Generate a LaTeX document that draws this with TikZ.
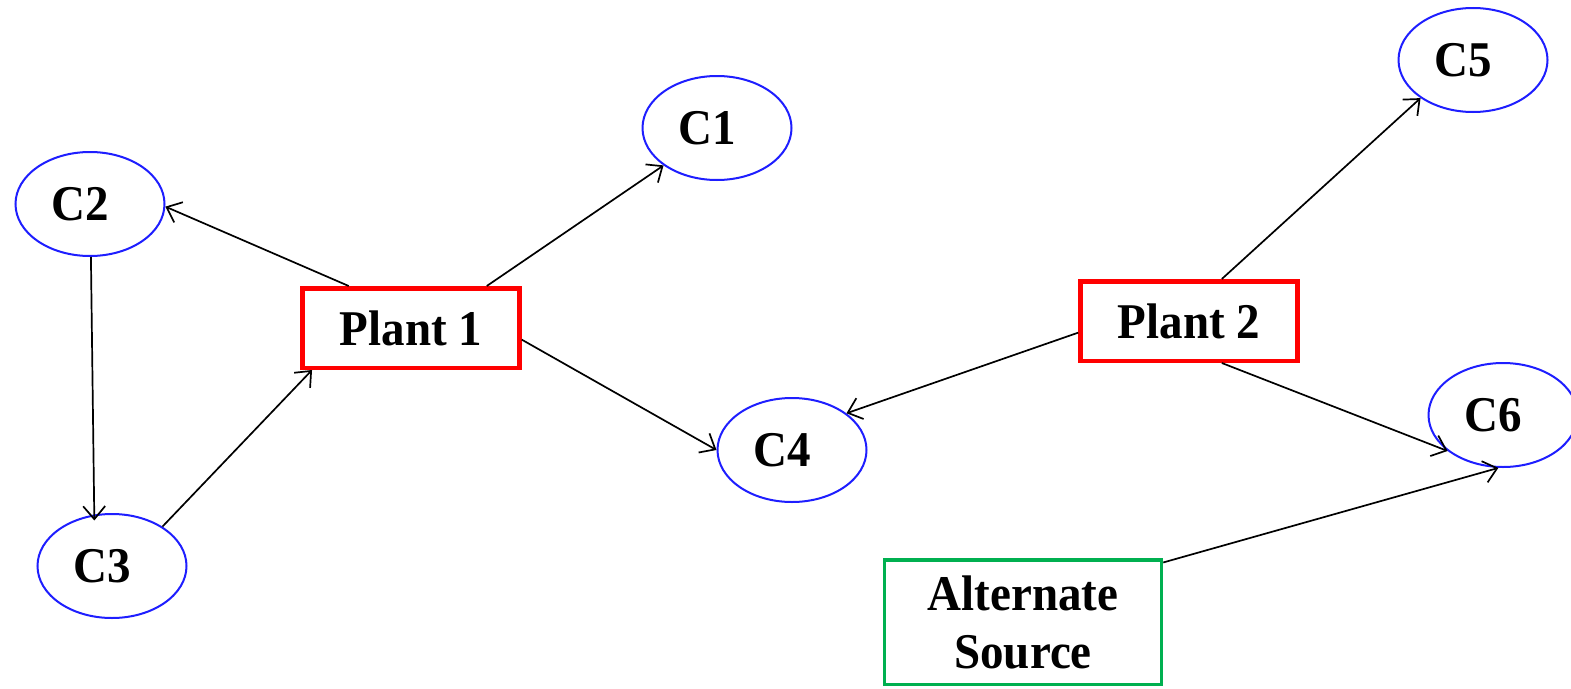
\documentclass[tikz,border=0pt]{standalone}
\usepackage{fontspec}
\setmainfont{Liberation Serif}[FakeStretch=0.94]
\usetikzlibrary{arrows.meta,shapes.geometric}
\definecolor{custblue}{RGB}{30,30,255}
\definecolor{plantred}{RGB}{255,0,0}
\definecolor{srcgreen}{RGB}{0,176,80}
\tikzset{
  cust/.style={ellipse, draw=custblue, line width=2pt, minimum width=149pt,
    minimum height=104pt, inner sep=0pt, font=\fontsize{50}{58}\selectfont\bfseries,
    execute at begin node=\kern-19pt},
  plant/.style={rectangle, draw=plantred, line width=4.5pt, minimum width=217pt,
    minimum height=79.5pt, inner sep=0pt, font=\fontsize{50}{58}\selectfont\bfseries},
  source/.style={rectangle, draw=srcgreen, line width=3.5pt, minimum width=277pt,
    minimum height=124.5pt, inner sep=0pt, align=center,
    font=\fontsize{50}{58}\selectfont\bfseries},
  flow/.style={line width=1.7pt, -{Straight Barb[length=13pt,width=22pt,line width=1.7pt]}}
}
\begin{document}
\begin{tikzpicture}[x=1pt,y=-1pt]
\useasboundingbox (0,0) rectangle (1571,688);
% customers
\node[cust] (c1) at (717,128) {C1};
\node[cust] (c2) at (90,204) {C2};
\node[cust] (c3) at (112,566) {C3};
\node[cust] (c4) at (792,450) {C4};
\node[cust] (c5) at (1473,60) {C5};
\node[cust] (c6) at (1503,415) {C6};
% supply points
\node[plant] (p1) at (411,328) {Plant 1};
\node[plant] (p2) at (1189,321) {Plant 2};
\node[source] (alt) at (1023,622) {Alternate\\Source};
% shipments
\draw[flow] (p1.146) -- (c2.-2);
\draw[flow] (p1.29) -- (c1.215);
\draw[flow] (p1.-6) -- (c4.180);
\draw[flow, shorten >=-6pt] (c2.-89) -- (c3.109);
\draw[flow] (c3.38) -- (p1.203);
\draw[flow] (p2.52) -- (c5.216);
\draw[flow] (p2.186) -- (c4.34);
\draw[flow] (p2.-52) -- (c6.213);
\draw[flow] (alt.23) -- (c6.265);
\end{tikzpicture}
\end{document}
